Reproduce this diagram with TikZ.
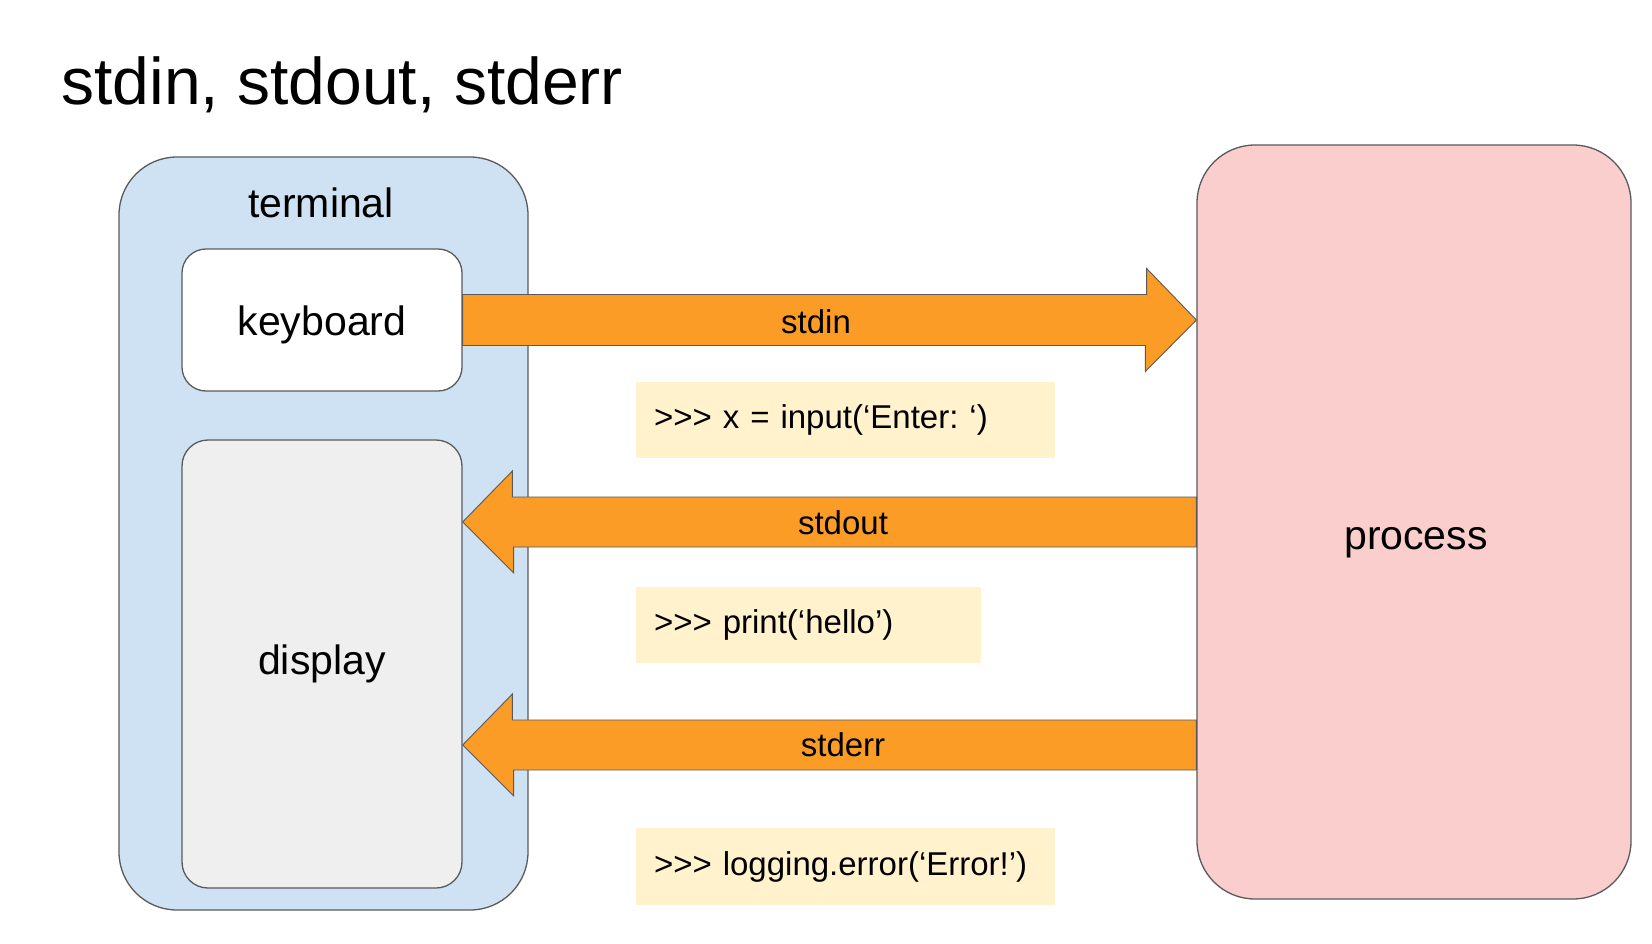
\documentclass[tikz,border=0pt]{standalone}
\usepackage{fontspec}
\setmainfont{Liberation Sans}
\usepackage{tikz}
\usepackage{xcolor}

\definecolor{termblue}{RGB}{207,226,243}
\definecolor{dispgray}{RGB}{239,239,239}
\definecolor{procred}{RGB}{249,206,205}
\definecolor{codeyellow}{RGB}{255,242,204}
\definecolor{streamorange}{RGB}{250,156,38}
\definecolor{edgegray}{RGB}{90,90,90}
\newcommand{\pyprompt}{>\kern0pt>\kern0pt>}
\frenchspacing

\begin{document}
\begin{tikzpicture}[x=1pt,y=1pt,
  box/.style={draw=edgegray,line width=1.3pt,inner sep=0pt},
  fat/.style={fill=streamorange,draw=edgegray,line width=0.9pt,line join=miter},
  codebox/.style={fill=codeyellow,inner xsep=18pt,inner ysep=0pt,align=left,
    font=\fontsize{33}{40}\selectfont},
  lbl/.style={font=\fontsize{41}{49}\selectfont},
  streamlbl/.style={font=\fontsize{33}{40}\selectfont}]
  \useasboundingbox[fill=white] (0,0) rectangle (1652,-943);
  \node[anchor=base west,font=\fontsize{66}{79}\selectfont] (title) at (58,-104) {stdin, stdout, stderr};
  % the terminal side
  \node[box,fill=termblue,rounded corners=58pt,minimum width=409pt,minimum height=753pt] (terminal) at (323.5,-533.5) {};
  \node[lbl,anchor=base] (termlbl) at (321,-217) {terminal};
  \node[box,fill=white,rounded corners=24pt,minimum width=280pt,minimum height=142pt,lbl] (keyboard) at (322,-320) {};
  \node[lbl,anchor=base] (keylbl) at (322,-335) {keyboard};
  \node[box,fill=dispgray,rounded corners=26pt,minimum width=280pt,minimum height=448pt,lbl] (display) at (322,-664) {display};
  % the process side
  \node[box,fill=procred,rounded corners=58pt,minimum width=434pt,minimum height=754pt] (process) at (1414,-522) {};
  \node[lbl,anchor=base] (proclbl) at (1416,-549) {process};
  % streams
  \filldraw[fat] ([yshift=25.5pt]keyboard.east) -- ++(684,0) -- ++(0,26) -- (process.west |- keyboard.east)
     -- ++(-51,-51.5) -- ++(0,26) -- ([yshift=-25.5pt]keyboard.east) -- cycle;
  \filldraw[fat] ([yshift=25pt]process.west) -- ++(-684,0) -- ++(0,26) -- (display.east |- process.west)
     -- ++(51,-51) -- ++(0,26) -- ([yshift=-25pt]process.west) -- cycle;
  \coordinate (errsrc) at ([yshift=-223pt]process.west);
  \filldraw[fat] ([yshift=25pt]errsrc) -- ++(-684,0) -- ++(0,26) -- (display.east |- errsrc)
     -- ++(51,-51) -- ++(0,26) -- ([yshift=-25pt]errsrc) -- cycle;
  \node[streamlbl,anchor=base] (inlbl) at (816,-333) {stdin};
  \node[streamlbl] (outlbl) at (843,-523) {stdout};
  \node[streamlbl] (errlbl) at (843,-745) {stderr};
  % python lines
  \node[codebox,text width=383pt,minimum height=76pt] (incode) at (845.5,-420) {\pyprompt{} x = input(‘Enter: ‘)};
  \node[codebox,text width=309pt,minimum height=76pt] (outcode) at (808.5,-625) {\pyprompt{} print(‘hello’)};
  \node[codebox,text width=383pt,minimum height=77pt] (errcode) at (845.5,-866.5) {\pyprompt{} logging.error(‘Error!’)};
\end{tikzpicture}
\end{document}
